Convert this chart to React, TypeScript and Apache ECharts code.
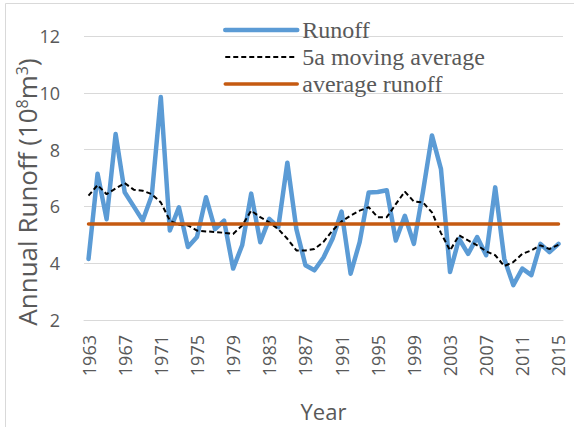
import React, { useEffect, useRef } from "react";
import * as echarts from "echarts";

const years: string[] = [];
for (let y = 1963; y <= 2015; y++) years.push(String(y));

const runoff = [
  4.15, 7.15, 5.55, 8.55, 6.5, 6.0, 5.5, 6.38, 9.85, 5.15,
  5.97, 4.57, 4.92, 6.32, 5.2, 5.5, 3.81, 4.63, 6.45, 4.74,
  5.56, 5.27, 7.54, 5.2, 3.93, 3.75, 4.2, 4.86, 5.82, 3.63,
  4.74, 6.49, 6.51, 6.57, 4.8, 5.67, 4.68, 6.5, 8.5, 7.31,
  3.69, 4.86, 4.33, 4.92, 4.28, 6.67, 4.16, 3.23, 3.81, 3.58,
  4.68, 4.39, 4.68,
];

const movingAvg = [
  6.38, 6.75, 6.43, 6.63, 6.82, 6.59, 6.55, 6.43, 6.14, 5.5,
  5.35, 5.33, 5.15, 5.12, 5.1, 5.07, 5.03, 5.33, 5.85, 5.62,
  5.44, 5.2, 4.86, 4.45, 4.45, 4.5, 4.75, 5.15, 5.47, 5.68,
  5.85, 5.97, 5.62, 5.62, 6.08, 6.52, 6.17, 6.14, 5.79, 5.06,
  4.45, 4.98, 4.8, 4.63, 4.42, 4.28, 3.9, 4.04, 4.33, 4.45,
  4.63, 4.5, 4.65,
];

const averageRunoffValue = 5.38;
const averageRunoff = years.map(() => averageRunoffValue);

const yTicks = { min: 2, max: 12, interval: 2 };

export default function App() {
  const ref = useRef<HTMLDivElement>(null);
  useEffect(() => {
    if (!ref.current) return;
    const chart = echarts.init(ref.current, undefined, { renderer: "svg" });
    chart.setOption({
      animation: false,
      backgroundColor: "#ffffff",
      graphic: [
        {
          type: "rect",
          shape: { x: 5.5, y: 3.5, width: 600, height: 500 },
          style: { fill: "none", stroke: "#d9d9d9", lineWidth: 1 },
          silent: true,
        },
        {
          type: "text",
          x: 27,
          y: 192,
          rotation: Math.PI / 2,
          silent: true,
          style: {
            text: "Annual Runoff (10{sup|8}m{sup|3})",
            fontFamily: "Open Sans",
            fontSize: 26,
            fill: "#595959",
            align: "center",
            verticalAlign: "middle",
            rich: {
              sup: {
                fontFamily: "Open Sans",
                fontSize: 16,
                fill: "#595959",
                verticalAlign: "top",
                padding: [0, 0, 10, 0],
              },
            },
          },
        },
      ],
      legend: {
        orient: "vertical",
        left: 218,
        top: 13,
        itemWidth: 72,
        itemHeight: 14,
        itemGap: 3,
        itemStyle: { opacity: 0 },
        textStyle: {
          fontFamily: "Liberation Serif",
          fontSize: 24,
          color: "#595959",
          lineHeight: 24,
        },
        data: [
          { name: "Runoff", lineStyle: { width: 4.5, cap: "round" } },
          { name: "5a moving average", lineStyle: { width: 2, type: [5, 3] } },
          { name: "average runoff", lineStyle: { width: 3.5, cap: "round" } },
        ],
      },
      grid: { left: 84, right: 11, top: 36, bottom: 105, containLabel: false },
      xAxis: {
        type: "category",
        data: years,
        boundaryGap: true,
        axisLine: { show: true, lineStyle: { color: "#d9d9d9", width: 1 } },
        axisTick: { show: false },
        axisLabel: {
          interval: 3,
          rotate: 90,
          margin: 15,
          color: "#595959",
          fontFamily: "Open Sans",
          fontSize: 18,
        },
        name: "Year",
        nameLocation: "middle",
        nameGap: 80,
        nameTextStyle: { fontFamily: "Open Sans", fontSize: 22, color: "#595959" },
      },
      yAxis: {
        type: "value",
        min: yTicks.min,
        max: yTicks.max,
        interval: yTicks.interval,
        axisLine: { show: false },
        axisTick: { show: false },
        splitLine: { lineStyle: { color: "#d9d9d9", width: 1 } },
        axisLabel: {
          margin: 24,
          color: "#595959",
          fontFamily: "Open Sans",
          fontSize: 18,
        },
      },
      series: [
        {
          name: "Runoff",
          type: "line",
          data: runoff,
          symbol: "none",
          lineStyle: { color: "#5B9BD5", width: 4.5, join: "round", cap: "round" },
          itemStyle: { color: "#5B9BD5" },
          z: 3,
        },
        {
          name: "5a moving average",
          type: "line",
          data: movingAvg,
          symbol: "none",
          lineStyle: { color: "#000000", width: 2, type: [5, 3] },
          itemStyle: { color: "#000000" },
          z: 4,
        },
        {
          name: "average runoff",
          type: "line",
          data: averageRunoff,
          symbol: "none",
          lineStyle: { color: "#C55A11", width: 3.5, cap: "round" },
          itemStyle: { color: "#C55A11" },
          z: 5,
        },
      ],
    });
    return () => chart.dispose();
  }, []);
  return (
    <div
      ref={ref}
      style={{ position: "fixed", left: 0, top: 0, width: 574, height: 427 }}
    />
  );
}
